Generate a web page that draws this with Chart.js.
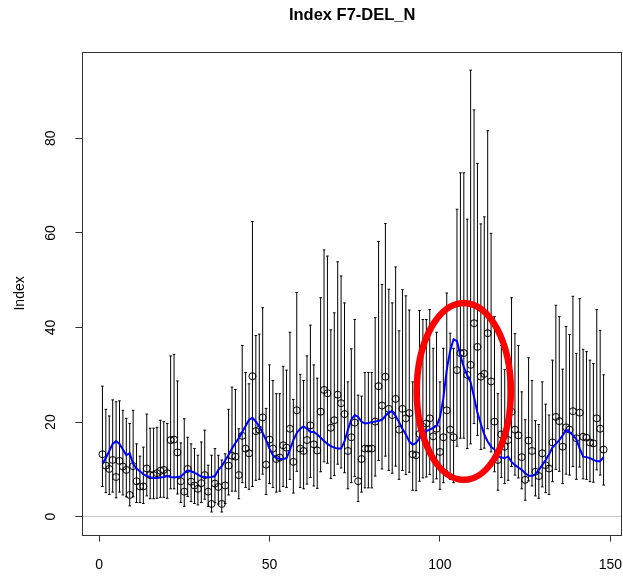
<!DOCTYPE html>
<html>
<head>
<meta charset="utf-8">
<script src="https://cdn.jsdelivr.net/npm/chart.js@4.4.1/dist/chart.umd.min.js"></script>
<style>
html,body{margin:0;padding:0;background:#fff;}
#wrap{width:623px;height:576px;position:relative;}
canvas{display:block;}
</style>
</head>
<body>
<div id="wrap"><canvas id="c" width="623" height="576"></canvas></div>
<script>
// ---- data ----
const xIndex = [1,2,3,4,5,6,7,8,9,10,11,12,13,14,15,16,17,18,19,20,
 21,22,23,24,25,26,27,28,29,30,31,32,33,34,35,36,37,38,39,40,
 41,42,43,44,45,46,47,48,49,50,51,52,53,54,55,56,57,58,59,60,
 61,62,63,64,65,66,67,68,69,70,71,72,73,74,75,76,77,78,79,80,
 81,82,83,84,85,86,87,88,89,90,91,92,93,94,95,96,97,98,99,100,
 101,102,103,104,105,106,107,108,109,110,111,112,113,114,115,116,117,118,119,120,
 121,122,123,124,125,126,127,128,129,130,131,132,133,134,135,136,137,138,139,140,
 141,142,143,144,145,146,147,148];

const indexValue = [13.2,10.8,10.1,12.0,8.4,11.8,10.6,9.9,4.6,10.7,
 7.5,6.4,6.4,10.2,8.8,8.8,9.2,9.7,9.9,9.2,
 16.2,16.3,13.6,7.5,5.3,10.1,7.4,6.6,5.9,7.1,
 8.8,5.3,2.7,7.0,6.3,2.7,6.6,10.8,12.9,12.7,
 8.8,17.1,14.4,13.4,29.7,18.1,18.4,21.0,11.0,16.3,
 14.4,12.2,12.5,15.1,14.6,18.6,11.6,22.5,14.4,13.9,
 16.2,19.3,15.3,14.0,22.2,26.8,26.1,18.8,20.4,25.8,
 24.0,21.7,13.9,16.8,19.9,7.5,12.2,14.4,14.4,14.4,
 20.1,27.6,23.5,29.6,22.8,21.5,24.9,18.4,22.8,20.8,
 21.9,13.2,13.0,17.5,19.0,19.7,20.8,17.0,18.6,13.7,
 16.8,22.5,18.4,16.8,31.0,34.6,34.6,30.0,32.1,40.9,
 35.9,29.6,30.2,38.8,28.6,20.1,12.0,17.4,14.8,16.2,
 22.2,18.4,17.2,12.6,7.8,16.1,13.9,9.5,8.6,13.4,
 10.9,10.2,15.7,21.1,20.2,14.8,18.9,18.4,22.3,16.6,
 22.0,16.9,16.7,15.7,15.5,20.8,18.6,14.2];

const upperCI = [27.6,22.7,21.3,24.7,24.3,24.5,22.5,20.8,19.7,22.5,
 15.4,12.8,14.7,21.7,18.7,18.7,18.9,20.4,20.1,19.7,
 34.0,34.3,28.7,15.6,20.7,16.8,15.4,14.4,13.0,15.8,
 18.3,10.9,13.0,14.4,13.0,12.0,13.3,22.7,27.4,26.9,
 18.6,36.2,30.5,28.1,62.4,38.3,38.6,44.2,22.9,32.1,
 28.8,26.0,26.0,31.8,31.0,39.0,24.8,47.4,30.1,28.8,
 34.0,40.5,32.1,29.3,46.3,56.4,55.1,39.5,43.1,53.9,
 50.9,45.2,28.5,35.5,41.7,25.7,25.5,30.5,30.5,30.5,
 42.1,58.2,49.1,62.0,48.1,45.2,52.8,39.3,48.0,46.7,
 43.7,28.5,28.0,43.6,41.7,41.7,43.8,35.6,39.0,28.5,
 35.6,47.3,38.8,35.6,65.0,72.7,72.7,62.9,94.4,86.0,
 74.7,61.9,63.4,81.6,59.9,42.3,26.0,36.2,31.1,33.6,
 46.3,38.7,36.2,26.4,20.5,33.6,28.8,20.3,19.5,28.5,
 23.8,21.5,33.1,44.7,42.3,31.2,40.2,38.5,46.6,34.5,
 46.1,35.4,34.9,33.1,32.4,43.8,39.4,30.0];

const lowerCI = [6.4,5.1,4.7,5.2,4.0,5.2,4.6,4.2,2.3,4.2,
 3.0,3.0,2.8,4.4,3.8,3.8,3.9,4.1,4.1,3.9,
 5.9,5.9,4.8,3.0,2.2,4.3,3.2,2.8,2.5,3.0,
 3.7,2.2,1.0,3.0,2.7,1.0,2.8,4.6,5.4,5.4,
 3.8,7.2,6.2,5.8,6.4,7.7,7.9,9.0,4.7,7.0,
 6.2,5.2,5.4,6.4,6.2,7.9,5.0,9.6,6.2,5.9,
 6.9,8.3,6.5,6.0,9.5,11.6,11.3,8.1,8.7,11.1,
 10.3,9.3,5.9,7.2,8.5,3.2,5.2,6.1,6.1,6.1,
 8.6,11.9,10.1,12.8,9.8,9.2,10.7,7.9,9.8,8.9,
 9.4,5.6,5.5,7.5,8.2,8.4,8.9,7.3,8.0,5.8,
 7.2,9.7,7.9,7.2,14.9,16.6,16.6,14.4,15.4,19.7,
 17.2,14.2,14.5,18.6,13.7,9.5,5.6,8.3,7.0,7.7,
 10.6,8.8,8.2,5.9,3.5,7.6,6.5,4.4,3.9,6.3,
 5.1,4.7,7.4,10.0,9.6,7.0,9.0,8.8,10.6,7.9,
 10.5,8.0,7.9,7.4,7.3,9.9,8.8,6.7];

const smoothValue = [11.3,12.4,13.9,15.4,16.0,15.4,14.2,13.0,13.4,11.2,
 10.2,9.6,9.0,8.6,8.3,8.2,8.2,8.3,8.4,8.6,
 8.4,8.3,8.4,8.5,9.2,9.8,9.6,9.3,8.9,8.5,
 8.4,8.3,8.4,8.6,9.9,10.7,11.9,13.1,14.4,15.6,
 16.6,17.9,19.2,20.5,20.9,20.1,19.1,17.7,16.2,14.4,
 13.0,12.4,12.2,12.2,12.4,14.2,16.2,17.7,18.6,19.1,
 18.6,17.9,17.9,17.4,16.7,16.0,15.4,14.9,14.6,14.4,
 14.4,15.9,18.4,20.5,21.5,21.1,20.1,19.7,19.8,20.0,
 20.1,20.3,20.5,21.3,22.1,22.3,21.3,20.0,18.6,17.4,
 15.9,15.2,15.6,16.6,17.2,18.1,18.4,18.8,19.2,21.0,
 25.0,31.1,35.1,37.5,37.1,34.1,31.6,29.9,28.4,25.3,
 22.0,19.6,17.4,15.9,14.8,14.2,12.8,12.5,12.4,12.7,
 11.6,10.9,10.4,9.9,9.2,8.7,8.6,9.0,9.9,10.9,
 12.0,13.2,14.6,15.4,16.2,17.2,18.4,17.9,17.2,16.4,
 14.4,12.7,12.6,12.4,12.0,11.7,11.7,12.6];

const xTickValues = [0, 50, 100, 150];
const yTickValues = [0, 20, 40, 60, 80];
const chartTitle = 'Index F7-DEL_N';
const yAxisTitle = 'Index';
// highlighted region (data units)
const highlightCenter = [107.0, 26.5];
const highlightRadius = [13.8, 18.7];

// ---- rendering ----
const FONT = "'Liberation Sans', Arial, Helvetica, sans-serif";

const pointData = xIndex.map((x, k) => ({x: x, y: indexValue[k]}));
const smoothData = xIndex.map((x, k) => ({x: x, y: smoothValue[k]}));

const framePlugin = {
  id: 'frame',
  beforeDatasetsDraw(chart) {
    const {ctx, chartArea: a, scales: {x, y}} = chart;
    ctx.save();
    // error bars
    ctx.strokeStyle = '#000';
    ctx.lineWidth = 1;
    ctx.beginPath();
    for (let k = 0; k < xIndex.length; k++) {
      const px = x.getPixelForValue(xIndex[k]);
      const lo = y.getPixelForValue(lowerCI[k]);
      const hi = y.getPixelForValue(upperCI[k]);
      ctx.moveTo(px, lo); ctx.lineTo(px, hi);
      ctx.moveTo(px - 1.3, lo); ctx.lineTo(px + 1.3, lo);
      ctx.moveTo(px - 1.3, hi); ctx.lineTo(px + 1.3, hi);
    }
    ctx.stroke();
    // box
    ctx.strokeStyle = '#333';
    ctx.lineWidth = 1;
    ctx.strokeRect(Math.round(a.left) + 0.5, Math.round(a.top) + 0.5,
                   Math.round(a.right) - Math.round(a.left) - 1,
                   Math.round(a.bottom) - Math.round(a.top));
    ctx.restore();
  },
  afterDatasetsDraw(chart) {
    const {ctx, scales: {x, y}} = chart;
    const cx = x.getPixelForValue(highlightCenter[0]);
    const cy = y.getPixelForValue(highlightCenter[1]);
    const rx = Math.abs(x.getPixelForValue(highlightCenter[0] + highlightRadius[0]) - cx);
    const ry = Math.abs(y.getPixelForValue(highlightCenter[1] + highlightRadius[1]) - cy);
    ctx.save();
    ctx.strokeStyle = '#ff0000';
    ctx.lineWidth = 6.5;
    ctx.beginPath();
    ctx.ellipse(cx, cy, rx, ry, 0, 0, Math.PI * 2);
    ctx.stroke();
    ctx.restore();
  }
};

const bgPlugin = {
  id: 'bg',
  beforeDraw(chart) {
    const {ctx, width, height} = chart;
    ctx.save();
    ctx.fillStyle = '#fff';
    ctx.fillRect(0, 0, width, height);
    ctx.restore();
  }
};

new Chart(document.getElementById('c'), {
  type: 'scatter',
  data: {
    datasets: [
      {
        type: 'line',
        label: 'smooth',
        data: smoothData,
        borderColor: '#0000ff',
        borderWidth: 2,
        pointRadius: 0,
        fill: false,
        tension: 0,
        order: 0
      },
      {
        type: 'scatter',
        label: 'Index',
        data: pointData,
        pointStyle: 'circle',
        pointRadius: 3.5,
        borderColor: '#000',
        backgroundColor: 'rgba(0,0,0,0)',
        borderWidth: 1,
        order: 1
      }
    ]
  },
  options: {
    responsive: false,
    animation: false,
    devicePixelRatio: 1,
    layout: {autoPadding: false, padding: {left: 0, right: 1, top: 0, bottom: 0}},
    plugins: {
      legend: {display: false},
      tooltip: {enabled: false},
      title: {
        display: true,
        text: chartTitle,
        fullSize: false,
        color: '#000',
        font: {family: FONT, size: 16.5, weight: 'bold', lineHeight: 1.2},
        padding: {top: 5.6, bottom: 26.8}
      }
    },
    scales: {
      x: {
        type: 'linear',
        min: -4.88,
        max: 153.4,
        afterBuildTicks: s => { s.ticks = xTickValues.map(v => ({value: v})); },
        afterFit: s => { s.height = 41.4; s.paddingLeft = 0; s.paddingRight = 0; },
        border: {display: false},
        grid: {drawOnChartArea: false, drawTicks: true, tickLength: 7, color: '#333', lineWidth: 1},
        ticks: {
          color: '#000',
          font: {family: FONT, size: 14, lineHeight: 1.2},
          padding: 15,
          maxRotation: 0,
          minRotation: 0,
          autoSkip: false
        }
      },
      y: {
        type: 'linear',
        min: -3.78,
        max: 98.2,
        afterBuildTicks: s => { s.ticks = yTickValues.map(v => ({value: v})); },
        afterFit: s => { s.width = 82.4; s.paddingTop = 0; s.paddingBottom = 0; },
        border: {display: false},
        grid: {
          drawOnChartArea: true,
          drawTicks: true,
          tickLength: 7,
          color: c => (c.tick && c.tick.value === 0) ? '#c8c8c8' : 'rgba(0,0,0,0)',
          tickColor: '#333',
          lineWidth: 1
        },
        ticks: {
          color: '#000',
          font: {family: FONT, size: 14, lineHeight: 1.2},
          minRotation: 90,
          maxRotation: 90,
          crossAlign: 'center',
          padding: 16,
          autoSkip: false
        },
        title: {
          display: true,
          text: yAxisTitle,
          color: '#000',
          font: {family: FONT, size: 14, lineHeight: 1.2},
          padding: {top: 11.6, bottom: 0}
        }
      }
    }
  },
  plugins: [bgPlugin, framePlugin]
});
</script>
</body>
</html>
